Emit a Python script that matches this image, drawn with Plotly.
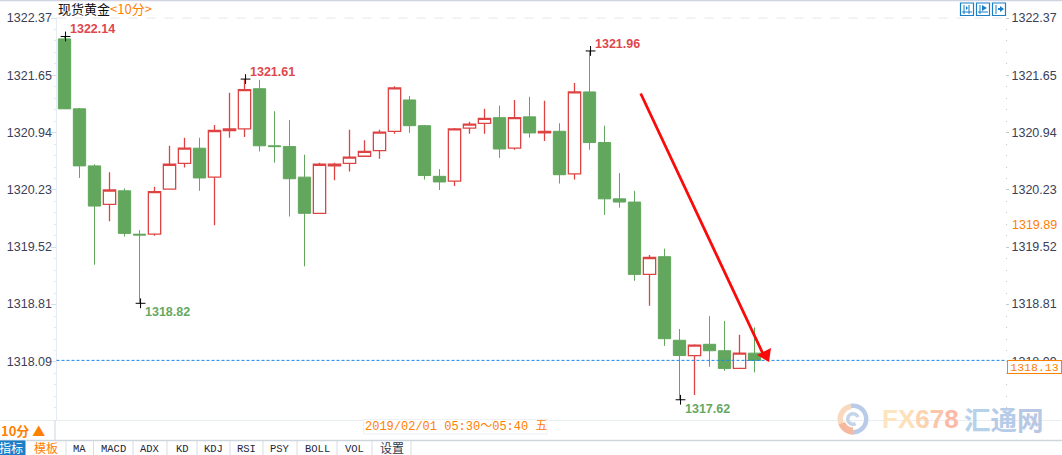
import math
import plotly.graph_objects as go

W, H = 1062, 455
opens = [1322.11,1321.24,1320.53,1320.05,1320.22,1319.68,1319.68,1320.24,1320.56,1320.75,1320.39,1320.97,1320.99,1321.49,1320.78,1320.77,1320.39,1319.94,1320.53,1320.56,1320.65,1320.72,1320.96,1321.35,1321.03,1320.40,1320.34,1321.00,1321.06,1321.13,1320.75,1321.14,1320.94,1320.96,1320.43,1321.45,1320.82,1320.12,1320.08,1319.18,1319.40,1318.36,1318.17,1318.31,1318.23,1318.01,1318.20]
highs = [1322.14,1321.25,1320.55,1320.45,1320.25,1319.73,1320.27,1320.78,1320.88,1320.88,1321.04,1321.44,1321.61,1321.60,1321.21,1321.10,1320.67,1320.57,1320.57,1320.98,1320.85,1320.98,1321.52,1321.40,1321.04,1320.49,1321.00,1321.08,1321.24,1321.28,1321.35,1321.39,1321.34,1321.06,1321.56,1321.96,1321.03,1320.44,1320.22,1319.42,1319.50,1318.50,1318.31,1318.66,1318.60,1318.43,1318.52]
lows = [1321.24,1320.38,1319.30,1319.84,1319.65,1318.82,1319.66,1320.24,1320.51,1320.22,1319.79,1320.88,1320.89,1320.71,1320.57,1319.90,1319.28,1319.94,1320.35,1320.46,1320.65,1320.62,1320.93,1320.94,1320.36,1320.23,1320.28,1320.93,1320.93,1320.63,1320.73,1320.88,1320.84,1320.31,1320.36,1320.73,1319.92,1320.01,1319.10,1318.79,1318.29,1317.62,1317.68,1318.03,1317.98,1318.01,1317.96]
closes = [1321.24,1320.53,1320.03,1320.23,1319.69,1319.67,1320.21,1320.55,1320.75,1320.38,1320.97,1320.99,1321.48,1320.78,1320.77,1320.37,1319.94,1320.55,1320.55,1320.64,1320.71,1320.95,1321.50,1321.03,1320.41,1320.33,1320.99,1321.05,1321.12,1320.74,1321.13,1320.94,1320.96,1320.42,1321.45,1320.82,1320.12,1320.08,1319.18,1319.39,1318.38,1318.17,1318.30,1318.23,1318.01,1318.20,1318.11]
x_idx = list(range(len(opens)))

tick_labels = ["1322.37","1321.65","1320.94","1320.23","1319.52","1318.81","1318.09"]
tick_vals = [float(t) for t in tick_labels]
extreme_idx = [0, 5, 12, 35, 41]
extreme_val = [1322.14, 1318.82, 1321.61, 1321.96, 1317.62]
extreme_dir = [1, -1, 1, 1, -1]
extreme_col = ["#e0474c", "#66a85f", "#e0474c", "#e0474c", "#66a85f"]
current_price_line = 1318.11
current_price_label = "1318.13"
other_label = "1319.89"
tabs = ["MA","MACD","ADX","KD","KDJ","RSI","PSY","BOLL","VOL"]
tab_edges = [66,93.5,133,167,197,230,263,297,337,372,411]

GREEN, RED, ORANGE, BLUE = "#62a75d", "#de4343", "#ff8000", "#1a7fc6"
TXT = "#3b4058"

def X(p): return p / W
def Y(p): return 1 - p / H

y_top, y_bot = 18, 420
x_l, x_r = 56.5, 1005
px_per = 80.37
yr = [tick_vals[0] - (y_bot - y_top) / px_per, tick_vals[0]]
xr = [(x_l - 64.5) / 15, (x_r - 64.5) / 15]
minor = [tick_vals[0] - i * (tick_vals[0] - tick_vals[-1]) / 30 for i in range(1, 35)]

fig = go.Figure()
fig.add_trace(go.Candlestick(
    x=x_idx, open=opens, high=highs, low=lows, close=closes,
    increasing=dict(line=dict(color=RED, width=1.3), fillcolor="#ffffff"),
    decreasing=dict(line=dict(color=GREEN, width=1), fillcolor=GREEN),
    whiskerwidth=0, hoverinfo="skip", showlegend=False, yaxis="y"))
fig.add_trace(go.Scatter(
    x=[x_idx[i] + 0.07 for i in extreme_idx], y=extreme_val, mode="markers", yaxis="y2",
    marker=dict(symbol="cross-thin", size=7, line=dict(color="#000", width=1)),
    hoverinfo="skip", showlegend=False))

shapes, ann = [], []
def line(x0, y0, x1, y1, color, w=1, dash=None):
    shapes.append(dict(type="line", xref="paper", yref="paper", x0=X(x0), y0=Y(y0), x1=X(x1), y1=Y(y1),
                       line=dict(color=color, width=w, dash=dash), layer="above"))
def rect(x0, y0, x1, y1, color, fill=None, w=1):
    shapes.append(dict(type="rect", xref="paper", yref="paper", x0=X(x0), y0=Y(y0), x1=X(x1), y1=Y(y1),
                       line=dict(color=color, width=w), fillcolor=fill or "rgba(0,0,0,0)", layer="above"))
def text(x, y, s, color="#222", size=12, fam="Liberation Sans", xa="left", **kw):
    ann.append(dict(xref="paper", yref="paper", x=X(x), y=Y(y), text=s, showarrow=False, xanchor=xa, yanchor="middle",
                    font=dict(color=color, size=size, family=fam), borderpad=0, borderwidth=0, **kw))
def poly(pts, fill, lw=0, color=None):
    d = "M" + "L".join(f"{X(a):.5f},{Y(b):.5f}" for a, b in pts) + "Z"
    shapes.append(dict(type="path", xref="paper", yref="paper", path=d, fillcolor=fill, layer="above",
                       line=dict(width=lw, color=color or fill)))
def arc(cx, cy, r0, r1, a0, a1, fill):
    n = 24
    out = [(cx + r1 * math.cos(math.radians(a0 + (a1 - a0) * i / n)), cy - r1 * math.sin(math.radians(a0 + (a1 - a0) * i / n))) for i in range(n + 1)]
    inn = [(cx + r0 * math.cos(math.radians(a1 - (a1 - a0) * i / n)), cy - r0 * math.sin(math.radians(a1 - (a1 - a0) * i / n))) for i in range(n + 1)]
    poly(out + inn, fill)

line(0, 0.5, W, 0.5, "#cfd4e0", 1.5)
line(x_l, y_top, x_r, y_top, "#e6e6e6", 1, "dash")
line(0, 420.5, W, 420.5, "#e8edf0", 1)
line(0, 440.5, W, 440.5, "#cdd5dd", 1.3)
line(55, 420, 55, 440, "#d8dfe6", 1.3)

shapes.append(dict(type="line", xref="paper", yref="y", x0=X(x_l), x1=X(x_r), y0=current_price_line, y1=current_price_line,
                   line=dict(color="#1688f0", width=1, dash="3px,2px"), layer="above"))

text(58, 8, "现货黄金", "#111", 13, "Noto Sans CJK SC")
text(110, 8, "&lt;10分&gt;", ORANGE, 13, "Noto Sans CJK SC")

for x0 in (960.5, 976.5, 992.5):
    rect(x0, 3, x0 + 13, 15.5, BLUE, "#ffffff", 1.2)
line(964, 5, 964, 14, BLUE); line(962, 12, 972, 12, BLUE); line(969, 5, 969, 14, BLUE)
poly([(966, 6), (966, 10), (968, 8)], BLUE)
line(980, 5, 980, 14, BLUE); line(978, 12, 988, 12, BLUE)
poly([(982, 5), (982, 11), (987, 8)], BLUE)
line(996, 5, 996, 14, BLUE); line(998, 9, 1001, 9, BLUE, 2)
poly([(1000, 6), (1000, 12), (1004, 9)], BLUE)

for i, v, d, c in zip(extreme_idx, extreme_val, extreme_dir, extreme_col):
    ann.append(dict(x=i, y=v, xref="x", yref="y", text=f"<b>{v:.2f}</b>", showarrow=False, xanchor="left", yanchor="middle",
                    xshift=3, yshift=7 * d if d > 0 else -9,
                    font=dict(color=c, size=12.5, family="Liberation Sans")))

text(1012, 225, other_label, ORANGE, 12.5)
ann.append(dict(xref="paper", yref="paper", x=X(1007), y=Y(367), text=current_price_label, showarrow=False, xanchor="left", yanchor="middle",
                width=53, height=12, align="center", bgcolor="#ffffff", bordercolor=ORANGE, borderwidth=1, borderpad=0,
                font=dict(color=ORANGE, size=11.5, family="Liberation Mono")))

ann.append(dict(x=(764 - 64.5) / 15, y=tick_vals[0] - (356 - 18) / px_per, ax=(640 - 64.5) / 15, ay=tick_vals[0] - (92 - 18) / px_per,
                xref="x", yref="y", axref="x", ayref="y", text="", showarrow=True,
                arrowhead=0, arrowwidth=2.8, arrowcolor="#fb0a0a"))
poly([(757, 355), (771, 348), (769, 362)], "#fb0a0a")

text(1, 430, "<b>10分 ▲</b>", ORANGE, 13, "Noto Sans CJK SC")
rect(363.5, 419.5, 547, 434, "#edf1f5", "#ffffff")
text(365, 426.5, "2019/02/01 05:30～05:40 五", ORANGE, 12, "Liberation Mono, Noto Sans CJK SC")
rect(0, 441, 25, 455, BLUE, BLUE)
text(11, 447.5, "指标", "#ffffff", 12, "Noto Sans CJK SC", xa="center")
text(45.5, 447.5, "模板", ORANGE, 12, "Noto Sans CJK SC", xa="center")
for e in tab_edges:
    line(e, 441, e, 455, "#d6dce3")
for name, a, b in zip(tabs, tab_edges, tab_edges[1:]):
    text((a + b) / 2, 448.5, name, "#222637", 10.5, "Liberation Mono", xa="center")
text((tab_edges[-2] + tab_edges[-1]) / 2, 447.5, "设置", "#33384a", 12, "Noto Sans CJK SC", xa="center")

cx, cy = 853, 419
arc(cx, cy, 11, 15.5, -110, 100, "#b9cbe6")
arc(cx, cy, 10, 15.5, 100, 200, "#f9d9be")
arc(cx, cy, 8.5, 15.5, 200, 270, "#f6b9a0")
arc(cx, cy, 3.5, 7, 20, 300, "#c5d4e9")
wm = "".join(f'<span style="color:{c}">{ch}</span>' for ch, c in zip("FX678", ["#fde6bf", "#fde0b8", "#fdd2ae", "#fcc4a8", "#fbb9a6"]))
text(881.5, 419, f"<b>{wm}</b>", "#fde6bf", 26)
wm2 = "".join(f'<span style="color:{c}">{ch}</span>' for ch, c in zip("汇通网", ["#b5d2ea", "#b5cce8", "#b7c7e4"]))
text(964, 418.5, f"<b>{wm2}</b>", "#b5d2ea", 26.5, "Noto Sans CJK SC")

axis_common = dict(range=yr, tickvals=tick_vals, ticktext=tick_labels, showgrid=False, zeroline=False,
                   tickfont=dict(color=TXT, size=12.5, family="Liberation Sans"), ticks="outside",
                   domain=[1 - y_bot / H, 1 - y_top / H], automargin=False)
fig.update_layout(
    width=W, height=H, autosize=False, margin=dict(l=0, r=0, t=0, b=0),
    paper_bgcolor="#ffffff", plot_bgcolor="#ffffff", showlegend=False, boxgap=0.18, boxgroupgap=0.0, boxmode="overlay",
    xaxis=dict(domain=[x_l / W, x_r / W], range=xr, visible=False, rangeslider=dict(visible=False), fixedrange=True),
    yaxis=dict(**axis_common, side="left", ticklen=5, tickcolor="#cfe0f0", showline=True, linecolor="#e4ebf3", linewidth=1,
               ticklabelstandoff=-4,
               minor=dict(tickvals=minor, ticks="outside", ticklen=2, tickcolor="#dfe8f2")),
    yaxis2=dict(**axis_common, side="right", overlaying="y", ticklen=3, tickcolor="#c8c8c8", showline=False,
                minor=dict(tickvals=minor, ticks="outside", ticklen=1, tickcolor="#c8c8c8")),
    shapes=shapes, annotations=ann,
)
fig.write_html("out.html", config={"displayModeBar": False},
               post_script="document.body.style.margin='0';document.body.style.overflow='hidden';")
